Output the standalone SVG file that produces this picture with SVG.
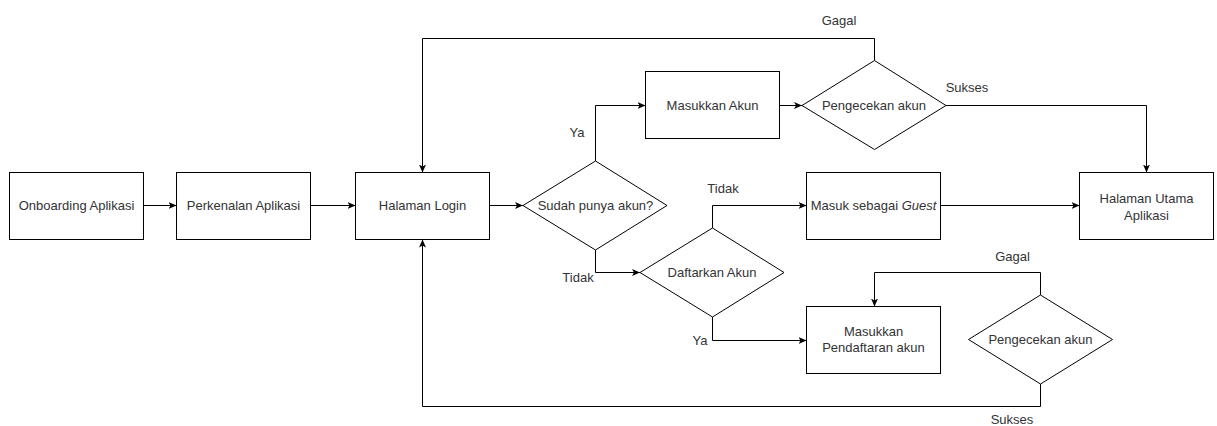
<svg xmlns="http://www.w3.org/2000/svg" width="1217" height="426" viewBox="0 0 1217 426">
<style>
.n{fill:#fff;stroke:#000;stroke-width:1}
.c{fill:none;stroke:#000;stroke-width:1}
.ca{fill:none;stroke:#000;stroke-width:1;marker-end:url(#arr)}
text{font-family:"Liberation Sans",Arial,sans-serif;font-size:13px;fill:#333;text-anchor:middle}
</style>
<defs>
<marker id="arr" markerUnits="userSpaceOnUse" markerWidth="9" markerHeight="8" refX="8" refY="4" orient="auto">
<path d="M0,0.5 L8,4 L0,7.5 L2,4 Z" fill="#000"/>
</marker>
</defs>
<rect width="1217" height="426" fill="#fff"/>
<g id="connectors">
<path class="ca" d="M143.5,205.5 H176.5"/>
<path class="ca" d="M310.5,205.5 H355.5"/>
<path class="ca" d="M489.5,205.5 H523"/>
<path class="ca" d="M595.5,161 V105.5 H645.5"/>
<path class="ca" d="M779.5,105.5 H802"/>
<path class="ca" d="M874.5,60.5 V38.5 H422.5 V172.5"/>
<path class="ca" d="M946,105.5 H1146.5 V172.5"/>
<path class="ca" d="M595.5,250 V272.5 H640"/>
<path class="ca" d="M712.5,228 V205.5 H806.5"/>
<path class="ca" d="M712.5,317 V340.5 H806.5"/>
<path class="ca" d="M940.5,205.5 H1079.5"/>
<path class="ca" d="M1040.5,295 V272.5 H874.5 V306.5"/>
<path class="ca" d="M1040.5,384 V406.5 H422.5 V239.5"/>
<text x="839" y="25">Gagal</text>
<text x="967" y="92">Sukses</text>
<text x="577" y="137">Ya</text>
<text x="578" y="282">Tidak</text>
<text x="723" y="193">Tidak</text>
<text x="700" y="345">Ya</text>
<text x="1012.5" y="260.5">Gagal</text>
<text x="1012" y="424">Sukses</text>
</g>
<g id="onboarding">
<rect class="n" x="9.5" y="172.5" width="134" height="67"/>
<text x="76.5" y="210">Onboarding Aplikasi</text>
</g>
<g id="perkenalan">
<rect class="n" x="176.5" y="172.5" width="134" height="67"/>
<text x="243.5" y="210">Perkenalan Aplikasi</text>
</g>
<g id="login">
<rect class="n" x="355.5" y="172.5" width="134" height="67"/>
<text x="422.5" y="210">Halaman Login</text>
</g>
<g id="sudah">
<polygon class="n" points="523,205.5 595.5,161 667,205.5 595.5,250"/>
<text x="595.5" y="210">Sudah punya akun?</text>
</g>
<g id="masukkan-akun">
<rect class="n" x="645.5" y="71.5" width="134" height="67"/>
<text x="712.5" y="110">Masukkan Akun</text>
</g>
<g id="pengecekan1">
<polygon class="n" points="802,105.5 874.5,60.5 946,105.5 874.5,149.5"/>
<text x="874" y="110">Pengecekan akun</text>
</g>
<g id="daftarkan">
<polygon class="n" points="640,272.5 712.5,228 784,272.5 712.5,317"/>
<text x="712" y="277">Daftarkan Akun</text>
</g>
<g id="guest">
<rect class="n" x="806.5" y="172.5" width="134" height="67"/>
<text x="873.5" y="210">Masuk sebagai <tspan font-style="italic">Guest</tspan></text>
</g>
<g id="pendaftaran">
<rect class="n" x="806.5" y="306.5" width="134" height="67"/>
<text x="873.5" y="335.5">Masukkan</text>
<text x="873.5" y="352">Pendaftaran akun</text>
</g>
<g id="pengecekan2">
<polygon class="n" points="968.5,339.5 1040.5,295 1112.5,339.5 1040.5,384"/>
<text x="1040.5" y="344">Pengecekan akun</text>
</g>
<g id="utama">
<rect class="n" x="1079.5" y="172.5" width="134" height="67"/>
<text x="1146.5" y="203">Halaman Utama</text>
<text x="1146.5" y="219.5">Aplikasi</text>
</g>
</svg>
